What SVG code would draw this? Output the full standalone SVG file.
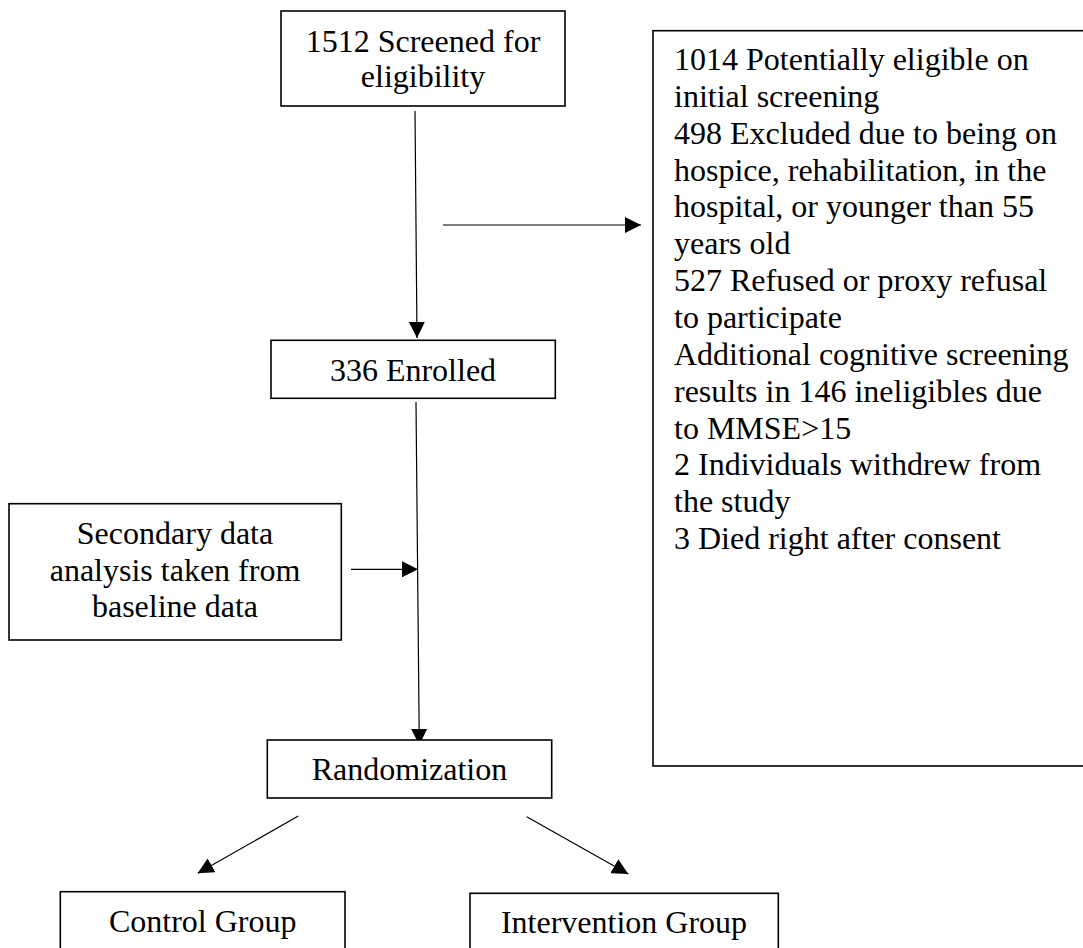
<svg xmlns="http://www.w3.org/2000/svg" width="1083" height="948" viewBox="0 0 1083 948">
<style>
.box{fill:#fff;stroke:#000;stroke-width:1.6}
.t{font-family:"Liberation Serif","Times New Roman",serif;font-size:32px;fill:#000}
.c{text-anchor:middle}
.conn{stroke:#000;stroke-width:1.2;fill:none;marker-end:url(#ah)}
</style>
<defs>
<marker id="ah" markerUnits="userSpaceOnUse" markerWidth="16" markerHeight="16" viewBox="0 0 15 15" refX="15" refY="7.5" orient="auto">
<path d="M0,0 L15,7.5 L0,15 z" fill="#000"/>
</marker>
</defs>
<rect width="1083" height="948" fill="#fff"/>
<g id="connectors">
<line class="conn" x1="415" y1="111" x2="417" y2="338"/>
<line class="conn" x1="443" y1="225" x2="641" y2="225"/>
<line class="conn" x1="416" y1="402" x2="419.3" y2="745"/>
<line class="conn" x1="351" y1="569.3" x2="418" y2="569.3"/>
<line class="conn" x1="298.3" y1="816" x2="197.7" y2="873.3"/>
<line class="conn" x1="526.7" y1="816.7" x2="628.3" y2="874"/>
</g>
<g id="screened">
<rect class="box" x="281" y="11" width="284" height="95"/>
<text class="t c" x="423" y="51.7">1512 Screened for</text>
<text class="t c" x="423" y="87.3">eligibility</text>
</g>
<g id="excluded">
<rect class="box" x="653" y="30.7" width="440" height="735.3"/>
<text class="t" x="674" y="70">
<tspan x="674" y="70">1014 Potentially eligible on</tspan>
<tspan x="674" y="106.85">initial screening</tspan>
<tspan x="674" y="143.7">498 Excluded due to being on</tspan>
<tspan x="674" y="180.55">hospice, rehabilitation, in the</tspan>
<tspan x="674" y="217.4">hospital, or younger than 55</tspan>
<tspan x="674" y="254.25">years old</tspan>
<tspan x="674" y="291.1">527 Refused or proxy refusal</tspan>
<tspan x="674" y="327.95">to participate</tspan>
<tspan x="674" y="364.8">Additional cognitive screening</tspan>
<tspan x="674" y="401.65">results in 146 ineligibles due</tspan>
<tspan x="674" y="438.5">to MMSE&gt;15</tspan>
<tspan x="674" y="475.35">2 Individuals withdrew from</tspan>
<tspan x="674" y="512.2">the study</tspan>
<tspan x="674" y="549">3 Died right after consent</tspan>
</text>
</g>
<g id="enrolled">
<rect class="box" x="271" y="340.3" width="284.3" height="58"/>
<text class="t c" x="413" y="380.7">336 Enrolled</text>
</g>
<g id="secondary">
<rect class="box" x="9" y="503.7" width="332.3" height="136.3"/>
<text class="t c" x="175" y="544">Secondary data</text>
<text class="t c" x="175" y="580.5">analysis taken from</text>
<text class="t c" x="175" y="617">baseline data</text>
</g>
<g id="randomization">
<rect class="box" x="267.3" y="740" width="284.4" height="58"/>
<text class="t c" x="409.5" y="780">Randomization</text>
</g>
<g id="control">
<rect class="box" x="60.3" y="891.7" width="284.7" height="80"/>
<text class="t c" x="202.7" y="931.7">Control Group</text>
</g>
<g id="intervention">
<rect class="box" x="470" y="893.3" width="308.3" height="80"/>
<text class="t c" x="624" y="933">Intervention Group</text>
</g>
</svg>
